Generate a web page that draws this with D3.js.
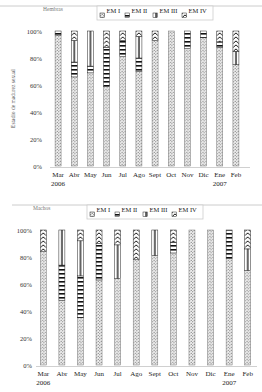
<!DOCTYPE html>
<html>
<head>
<meta charset="utf-8">
<script src="https://cdn.jsdelivr.net/npm/d3@7"></script>
<style>
  body { margin: 0; background: #fff; }
  text { font-family: "Liberation Serif", "DejaVu Serif", serif; fill: #222; }
</style>
</head>
<body>
<svg id="chart" width="262" height="392"></svg>
<script>
// Months and year labels
const months = ["Mar", "Abr", "May", "Jun", "Jul", "Ago", "Sept", "Oct", "Nov", "Dic", "Ene", "Feb"];
const years = ["2006", "", "", "", "", "", "", "", "", "", "2007", ""];
const seriesNames = ["EM I", "EM II", "EM III", "EM IV"];
const yTicks = [0, 20, 40, 60, 80, 100];

// Upper panel (%)
const emI_top = [97, 66, 69, 59, 81, 70, 93, 100, 87, 95, 88, 75];
const emII_top = [3, 11, 5, 29, 12, 10, 0, 0, 13, 5, 4, 0];
const emIII_top = [0, 16, 26, 0, 0, 16, 0, 0, 0, 0, 0, 10];
const emIV_top = [0, 7, 0, 12, 7, 4, 7, 0, 0, 0, 8, 15];

// Lower panel (%)
const emI_bot = [84, 48, 35, 63, 64, 78, 81, 83, 100, 100, 79, 70];
const emII_bot = [0, 26, 31, 27, 0, 0, 0, 8, 0, 0, 21, 0];
const emIII_bot = [0, 26, 26, 0, 25, 0, 19, 0, 0, 0, 0, 16];
const emIV_bot = [16, 0, 8, 10, 11, 22, 0, 9, 0, 0, 0, 14];

const svg = d3.select("#chart");
const barW = 6;
const legendOffsets = [3, 28, 56, 85];

// Patterns
const defs = svg.append("defs");

const dots = defs.append("pattern").attr("id", "p-dots")
    .attr("patternUnits", "userSpaceOnUse").attr("width", 3).attr("height", 3);
dots.append("rect").attr("width", 3).attr("height", 3).attr("fill", "#f2f2f2");
dots.append("circle").attr("cx", 0.75).attr("cy", 0.75).attr("r", 0.6).attr("fill", "#555");
dots.append("circle").attr("cx", 2.25).attr("cy", 2.25).attr("r", 0.6).attr("fill", "#555");

const hstripes = defs.append("pattern").attr("id", "p-hstripes")
    .attr("patternUnits", "userSpaceOnUse").attr("width", barW).attr("height", 4);
hstripes.append("rect").attr("width", barW).attr("height", 4).attr("fill", "#fff");
hstripes.append("rect").attr("y", 1).attr("width", barW).attr("height", 1.6).attr("fill", "#111");

const vline = defs.append("pattern").attr("id", "p-vline")
    .attr("patternUnits", "userSpaceOnUse").attr("width", barW).attr("height", 10);
vline.append("rect").attr("width", barW).attr("height", 10).attr("fill", "#fff");
vline.append("rect").attr("x", 2.4).attr("width", 1.3).attr("height", 10).attr("fill", "#111");

const chev = defs.append("pattern").attr("id", "p-chev")
    .attr("patternUnits", "userSpaceOnUse").attr("width", barW).attr("height", 4);
chev.append("rect").attr("width", barW).attr("height", 4).attr("fill", "#fff");
chev.append("path").attr("d", "M0.3,3.4L3,0.9L5.7,3.4")
    .attr("fill", "none").attr("stroke", "#111").attr("stroke-width", 1);

const fills = ["url(#p-dots)", "url(#p-hstripes)", "url(#p-vline)", "url(#p-chev)"];

function drawPanel(cfg, cols) {
    const rows = months.map((m, i) => ({
        month: m, year: years[i],
        "EM I": cols[0][i], "EM II": cols[1][i], "EM III": cols[2][i], "EM IV": cols[3][i]
    }));
    const stacked = d3.stack().keys(seriesNames)(rows);

    const x = d3.scaleBand().domain(months).range([cfg.x0, cfg.x1]);
    const y = d3.scaleLinear().domain([0, 100]).range([cfg.yBottom, cfg.yTop]);

    // separator line and panel caption
    svg.append("line")
        .attr("x1", cfg.sepX0).attr("x2", 262)
        .attr("y1", cfg.sepY).attr("y2", cfg.sepY)
        .attr("stroke", "#ccc").attr("stroke-width", 1);
    svg.append("text")
        .attr("x", cfg.captionX).attr("y", cfg.sepY + 5)
        .attr("font-size", 5.5).style("fill", "#777")
        .text(cfg.caption);

    // y tick labels
    const yAxis = d3.axisLeft(y).tickValues(yTicks).tickSize(0).tickPadding(0)
        .tickFormat(d => d + "%");
    svg.append("g")
        .attr("transform", `translate(${cfg.tickX},0)`)
        .call(yAxis)
        .call(g => g.select(".domain").remove())
        .selectAll("text")
        .attr("font-size", 6.5)
        .attr("font-family", "Liberation Serif, serif")
        .style("fill", "#333");

    // x axis baseline
    svg.append("line")
        .attr("x1", cfg.axisX0).attr("x2", cfg.axisX1)
        .attr("y1", cfg.yBottom + 1.5).attr("y2", cfg.yBottom + 1.5)
        .attr("stroke", "#d0d0d0").attr("stroke-width", 1);

    // bars: one group per month so patterns line up with the bar
    const barG = svg.append("g");
    const cols2 = barG.selectAll(".month")
        .data(months)
        .join("g")
        .attr("class", "month")
        .attr("transform", d => `translate(${x(d) + x.bandwidth() / 2 - barW / 2},0)`);

    stacked.forEach((layer, si) => {
        cols2.append("rect")
            .attr("x", 0)
            .attr("width", barW)
            .attr("y", (d, i) => y(layer[i][1]))
            .attr("height", (d, i) => y(layer[i][0]) - y(layer[i][1]))
            .attr("fill", fills[si])
            .attr("stroke", si === 0 ? "#777" : "#222")
            .attr("stroke-width", 0.5)
            .style("display", (d, i) => layer[i][1] - layer[i][0] > 0 ? null : "none");
    });

    // month and year labels
    const labels = svg.append("g");
    labels.selectAll(".m")
        .data(rows)
        .join("text")
        .attr("x", d => x(d.month) + x.bandwidth() / 2)
        .attr("y", cfg.yBottom + 11)
        .attr("text-anchor", "middle")
        .attr("font-size", 7)
        .text(d => d.month);
    labels.selectAll(".yr")
        .data(rows.filter(d => d.year))
        .join("text")
        .attr("x", d => x(d.month) + x.bandwidth() / 2)
        .attr("y", cfg.yBottom + 20)
        .attr("text-anchor", "middle")
        .attr("font-size", 7)
        .text(d => d.year);

    // legend
    const lg = svg.append("g").attr("transform", `translate(${cfg.legX},${cfg.legY})`);
    lg.append("rect")
        .attr("width", 116).attr("height", 14)
        .attr("fill", "#fff").attr("stroke", "#ccc").attr("stroke-width", 0.8);
    const item = lg.selectAll(".item")
        .data(seriesNames)
        .join("g")
        .attr("class", "item")
        .attr("transform", (d, i) => `translate(${legendOffsets[i]},0)`);
    item.append("rect")
        .attr("y", 7).attr("width", 4.5).attr("height", 4.5)
        .attr("fill", (d, i) => fills[i])
        .attr("stroke", "#222").attr("stroke-width", 0.5);
    item.append("text")
        .attr("x", 6.5).attr("y", 6.5)
        .attr("font-size", 6.5)
        .text(d => d);

    if (cfg.yTitle) {
        svg.append("text")
            .attr("transform", `translate(${cfg.yTitleX},${(cfg.yTop + cfg.yBottom) / 2}) rotate(-90)`)
            .attr("text-anchor", "middle")
            .attr("font-size", 5.5)
            .style("fill", "#555")
            .text(cfg.yTitle);
    }
}

drawPanel({
    caption: "Hembras", captionX: 43, sepX0: 0, sepY: 6,
    legX: 97, legY: 6,
    x0: 50, x1: 244, axisX0: 50, axisX1: 250,
    yTop: 31, yBottom: 166, tickX: 42,
    yTitle: "Estadio de madurez sexual", yTitleX: 15
}, [emI_top, emII_top, emIII_top, emIV_top]);

drawPanel({
    caption: "Machos", captionX: 33, sepX0: 12, sepY: 205,
    legX: 87, legY: 205,
    x0: 34, x1: 257, axisX0: 36, axisX1: 257,
    yTop: 230, yBottom: 365, tickX: 32,
    yTitle: null
}, [emI_bot, emII_bot, emIII_bot, emIV_bot]);
</script>
</body>
</html>
